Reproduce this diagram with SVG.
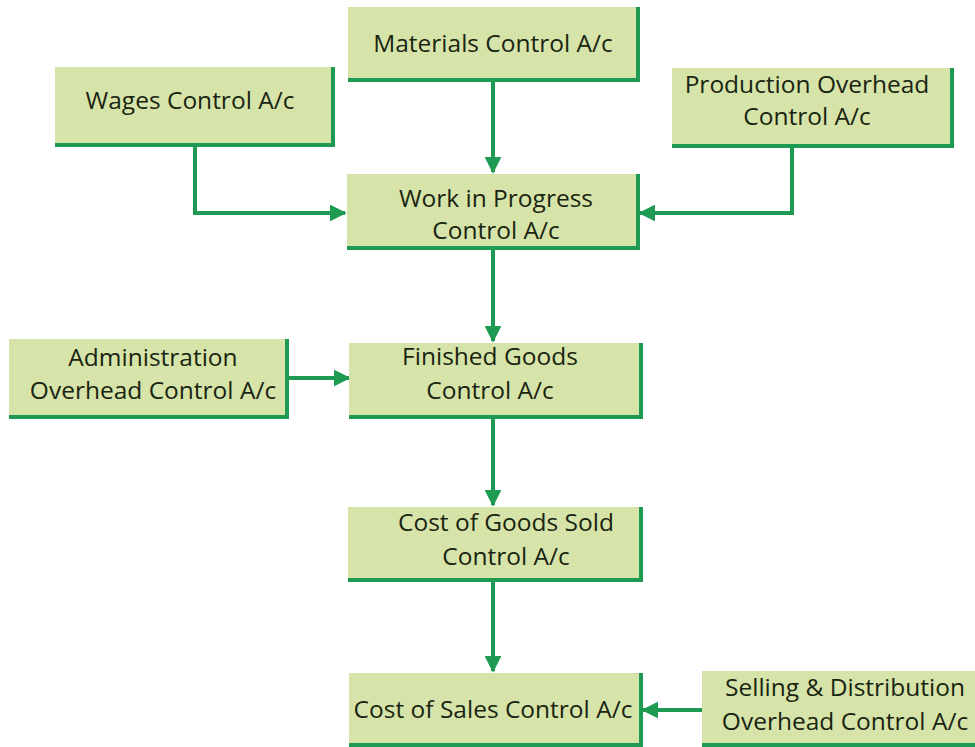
<svg xmlns="http://www.w3.org/2000/svg" width="975" height="747" viewBox="0 0 975 747">
<style>
.box{fill:#d6e4a9}
.edge{fill:none;stroke:#1e9a52;stroke-width:4}
.t{font-family:"Open Sans","Noto Sans",sans-serif;font-size:24.5px;fill:#1a2412;text-anchor:middle}
.c{fill:none;stroke:#1e9a52;stroke-width:4}
</style>
<defs>
<marker id="ah" viewBox="0 0 10 10" refX="9" refY="5" markerWidth="4.2" markerHeight="4.2" orient="auto" markerUnits="strokeWidth">
<path d="M0,0 L10,5 L0,10 Z" fill="#1e9a52"/>
</marker>
</defs>
<rect width="975" height="747" fill="#ffffff"/>
<g id="connectors">
<path class="c" d="M493,80 V172" marker-end="url(#ah)"/>
<path class="c" d="M195,145 V213 H345" marker-end="url(#ah)"/>
<path class="c" d="M792,146 V213 H640" marker-end="url(#ah)"/>
<path class="c" d="M493,248 V341" marker-end="url(#ah)"/>
<path class="c" d="M287,378 H349" marker-end="url(#ah)"/>
<path class="c" d="M493,417 V505" marker-end="url(#ah)"/>
<path class="c" d="M493,580 V671" marker-end="url(#ah)"/>
<path class="c" d="M702,710 H643" marker-end="url(#ah)"/>
</g>
<g id="materials">
<rect class="box" x="348" y="7" width="290" height="73"/>
<path class="edge" d="M348,80 H638 V7"/>
<text class="t" x="493" y="52">Materials Control A/c</text>
</g>
<g id="wages">
<rect class="box" x="55" y="67" width="278" height="78"/>
<path class="edge" d="M55,145 H333 V67"/>
<text class="t" x="190" y="109">Wages Control A/c</text>
</g>
<g id="production">
<rect class="box" x="672" y="68" width="280" height="78"/>
<path class="edge" d="M672,146 H952 V68"/>
<text class="t" x="807" y="93">Production Overhead</text>
<text class="t" x="807" y="125">Control A/c</text>
</g>
<g id="wip">
<rect class="box" x="347" y="174" width="291" height="74"/>
<path class="edge" d="M347,248 H638 V174"/>
<text class="t" x="496" y="207">Work in Progress</text>
<text class="t" x="496" y="239">Control A/c</text>
</g>
<g id="admin">
<rect class="box" x="9" y="339" width="278" height="78"/>
<path class="edge" d="M9,417 H287 V339"/>
<text class="t" x="153" y="366">Administration</text>
<text class="t" x="153" y="399">Overhead Control A/c</text>
</g>
<g id="finished">
<rect class="box" x="349" y="343" width="292" height="74"/>
<path class="edge" d="M349,417 H641 V343"/>
<text class="t" x="490" y="365">Finished Goods</text>
<text class="t" x="490" y="399">Control A/c</text>
</g>
<g id="cogs">
<rect class="box" x="348" y="507" width="293" height="73"/>
<path class="edge" d="M348,580 H641 V507"/>
<text class="t" x="506" y="531">Cost of Goods Sold</text>
<text class="t" x="506" y="565">Control A/c</text>
</g>
<g id="cos">
<rect class="box" x="349" y="673" width="292" height="74"/>
<path class="edge" d="M349,745 H641 V673"/>
<text class="t" x="493" y="718">Cost of Sales Control A/c</text>
</g>
<g id="selling">
<rect class="box" x="702" y="671" width="273" height="76"/>
<path class="edge" d="M702,745 H975"/>
<text class="t" x="845" y="696">Selling &amp; Distribution</text>
<text class="t" x="845" y="730">Overhead Control A/c</text>
</g>
</svg>
